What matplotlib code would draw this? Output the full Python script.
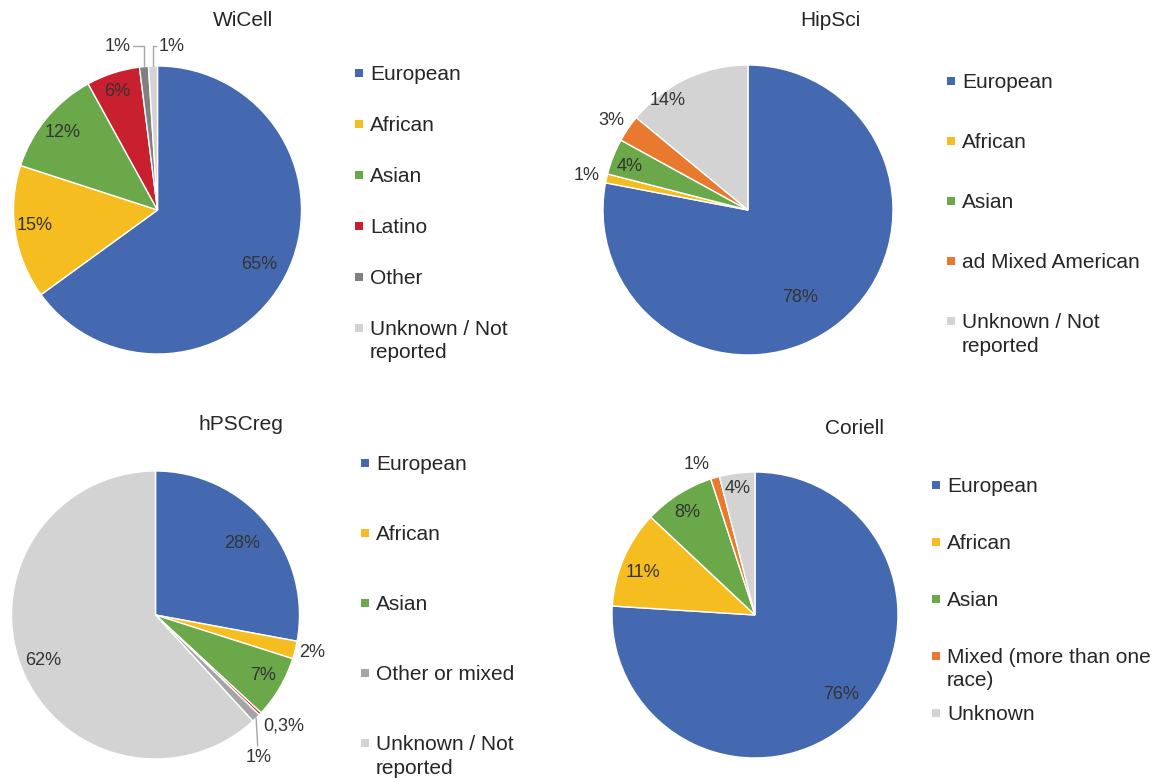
import matplotlib
matplotlib.use('Agg')

import numpy as np
import matplotlib.pyplot as plt
from matplotlib.patches import Rectangle

plt.rcParams['font.family'] = ['Liberation Sans', 'DejaVu Sans']

# ---- data ----
wicell_labels = ["European", "African", "Asian", "Latino", "Other",
                 "Unknown / Not\nreported"]
wicell_values = [65, 15, 12, 6, 1, 1]

hipsci_labels = ["European", "African", "Asian", "ad Mixed American",
                 "Unknown / Not\nreported"]
hipsci_values = [78, 1, 4, 3, 14]

hpscreg_labels = ["European", "African", "Asian", "Latino", "Other or mixed",
                  "Unknown / Not\nreported"]
hpscreg_values = [28, 2, 7, 0.3, 1, 62]

coriell_labels = ["European", "African", "Asian", "Mixed (more than one\nrace)",
                  "Unknown"]
coriell_values = [76, 11, 8, 1, 4]

# ---- styles ----
BLUE = '#4569B1'
YELLOW = '#F5BD1F'
GREEN = '#6AA84A'
RED = '#C8202F'
ORANGE = '#E8792F'
DGREY = '#808080'
MGREY = '#A5A5A5'
LGREY = '#D3D3D3'
TXT = '#262626'

W, H = 1158, 779
fig = plt.figure(figsize=(W / 100, H / 100), dpi=100)
fig.patch.set_facecolor('white')

SPAN = 1.5


def fx(x):
    return x / W


def fy(y):
    return 1 - y / H


def draw_pie(title, labels, values, colors, center, radius, title_xy,
             lab_style, leg_x, leg_y0, leg_step, leg_hide=()):
    cx, cy = center
    ax = fig.add_axes([fx(cx - SPAN * radius), fy(cy + SPAN * radius),
                       2 * SPAN * radius / W, 2 * SPAN * radius / H])
    wedges, _ = ax.pie(values, colors=colors, startangle=90, counterclock=False,
                       wedgeprops=dict(edgecolor='white', linewidth=1.0))
    ax.set_xlim(-SPAN, SPAN)
    ax.set_ylim(-SPAN, SPAN)
    ax.set_aspect('equal')
    ax.axis('off')
    ax.patch.set_visible(False)

    # percentage labels
    for w, v, (dist, shift, leader) in zip(wedges, values, lab_style):
        mid = np.deg2rad((w.theta1 + w.theta2) / 2)
        ang = mid + np.deg2rad(shift)
        txt = f"{v:g}%".replace('.', ',')
        pos = (dist * np.cos(ang), dist * np.sin(ang))
        if leader is None:
            ax.text(pos[0], pos[1], txt, ha='center', va='center',
                    fontsize=13, color='#333333')
        else:
            ax.annotate(txt, xy=(np.cos(mid), np.sin(mid)), xytext=pos,
                        ha='center', va='center', fontsize=13, color='#333333',
                        arrowprops=dict(arrowstyle='-', color='#A6A6A6', lw=1.0,
                                        connectionstyle=leader,
                                        shrinkA=0, shrinkB=0))

    fig.text(fx(title_xy[0]), fy(title_xy[1]), title, ha='center', va='center',
             fontsize=15, color=TXT)

    # legend
    k = 0
    for lab, col in zip(labels, colors):
        if lab in leg_hide:
            continue
        yc = leg_y0 + k * leg_step
        fig.add_artist(Rectangle((fx(leg_x), fy(yc + 4)), 8 / W, 8 / H,
                                 transform=fig.transFigure, facecolor=col,
                                 edgecolor='none'))
        fig.text(fx(leg_x + 15), fy(yc - 8), lab, ha='left', va='top',
                 fontsize=15, color=TXT, linespacing=1.3)
        k += 1


draw_pie("WiCell", wicell_labels, wicell_values,
         [BLUE, YELLOW, GREEN, RED, DGREY, LGREY],
         (157.5, 210), 144, (243, 20),
         [(0.80, -1, None), (0.86, -1.6, None), (0.85, 0.6, None),
          (0.87, 1, None),
          (1.17, 8.4, "angle,angleA=0,angleB=90"),
          (1.14, -6.8, "angle,angleA=0,angleB=90")],
         355, 73, 51)

draw_pie("HipSci", hipsci_labels, hipsci_values,
         [BLUE, YELLOW, GREEN, ORANGE, LGREY],
         (748, 210), 145, (830, 20),
         [(0.70, -8.6, None), (1.14, 0.6, None), (0.87, 1.6, None),
          (1.13, 1, None), (0.94, 11, None)],
         947, 81, 60)

draw_pie("hPSCreg", hpscreg_labels, hpscreg_values,
         [BLUE, YELLOW, GREEN, RED, MGREY, LGREY],
         (155.5, 615), 144, (241, 425),
         [(0.78, 0, None), (1.12, 0.8, None), (0.86, 1, None),
          (1.18, 2.5, None), (1.22, -8.5, "arc3"), (0.84, 0.6, None)],
         361, 463, 70, leg_hide=("Latino",))

draw_pie("Coriell", coriell_labels, coriell_values,
         [BLUE, YELLOW, GREEN, ORANGE, LGREY],
         (755, 615), 143, (855, 428),
         [(0.82, 3.8, None), (0.84, 2.8, None), (0.86, 1.3, None),
          (1.13, 4.8, None), (0.89, 0.8, None)],
         932, 485, 57)

fig.savefig('out.png', dpi=100, facecolor='white')
